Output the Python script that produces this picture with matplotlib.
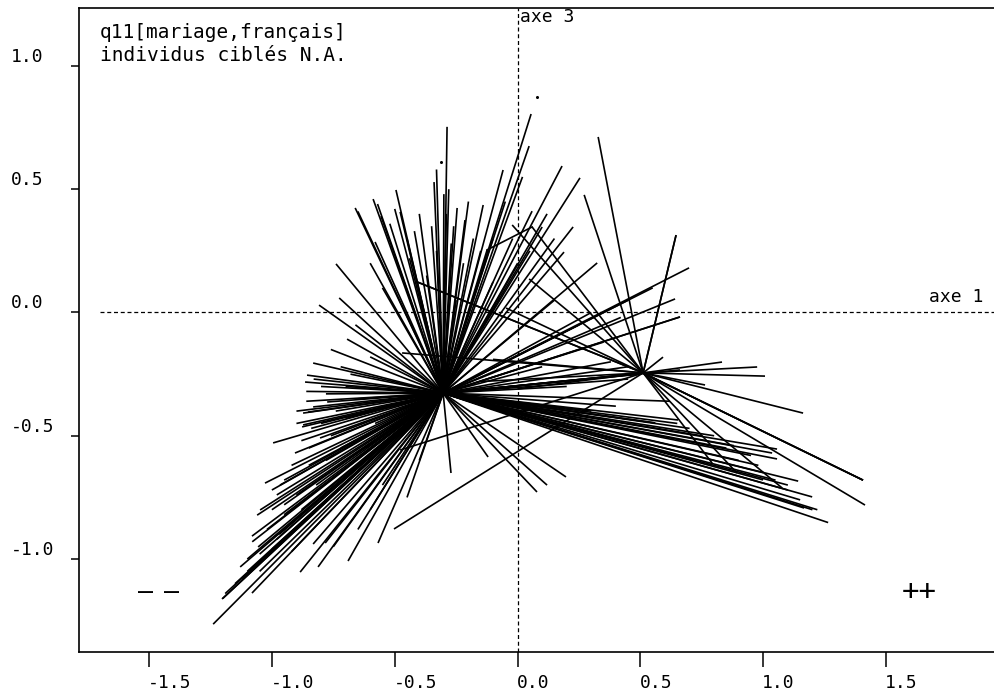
import matplotlib
matplotlib.use("Agg")
import matplotlib.pyplot as plt
from matplotlib.transforms import ScaledTranslation

# ---------------- data ----------------
c1_center = (-0.303, -0.327)
c2_center = (0.511, -0.245)

c1_x = [
    -0.287, -0.340, -0.495, -0.478, -0.588, -0.661, -0.556, -0.580, -0.739, -0.726,
    -0.808, -0.694, -0.246, -0.214, -0.140, -0.059, 0.047, 0.055, 0.181, 0.254,
    0.059, 0.100, 0.226, 0.189, 0.324, 0.698, 0.641, 0.661, 0.661, -0.124,
    -0.100, -0.30, -0.27, -0.33, -0.37, -0.22, -0.25, -0.42, -0.44, -0.18,
    -0.29, -0.52, -0.50, -0.10, 0.00, -0.65, -0.57,
    -0.33, -0.28, -0.26, -0.20, -0.15, -0.05, 0.02, -0.02, 0.05, 0.12,
    0.15, -0.40, -0.45, -0.35, -0.60, -0.55, 0.30, 0.45, 0.55,
    -0.832, -0.857, -0.865, -0.873, -0.832, -0.775, -0.873, -0.853, -0.877, -0.804,
    -0.995, -0.906, -1.028, -0.967, -1.060, -1.048, -1.081, -1.056, -1.129, -1.203,
    -1.239, -1.081, -0.885, -0.812, -0.690, -0.568, -0.832, -0.783, -0.271, -0.120,
    0.079, 0.120, 0.197,
    -0.80, -0.78, -0.74, -0.70, -0.84, -0.76, -0.88, -0.92, -0.85, -0.98,
    -0.90, -1.00, -0.95, -1.02, -0.97, -1.10, -1.05, -1.15, -0.92, -0.75,
    -0.65, -0.60, -0.55, -0.45, -0.40, -0.68, -0.72, -0.60, -0.65, -0.58,
    -0.62, -0.50, -0.76, -0.66, -1.19, -1.12, -1.00, -0.95, -0.90, -0.86,
    -1.20, -1.10, -1.05, -0.98, -1.08, -0.88, -0.82, -0.95, -1.00, -0.78,
    -0.72, -0.85, -0.80, -0.90, -0.86, -0.83, -0.70, -0.62,
    1.264, 1.166, 1.199, 1.142, 1.056, 1.036, 1.056, 0.999, 0.560, 0.560,
    0.653, 0.661, 0.52, 0.50, 0.45, 0.62, 0.88, 0.98, 0.70, 0.80,
    0.40, 0.30, 0.20, 0.10, 0.35, 0.25, 0.42, 0.15, 0.90, 1.10, 1.20,
    0.52, 0.52, 0.45, 0.38, 1.00, 1.10, 1.15, 0.95, 0.75, 0.65,
    0.85, 1.05, 1.22,
]
c1_y = [
    0.753, 0.529, 0.497, 0.408, 0.460, 0.424, 0.391, 0.286, 0.197, 0.059,
    0.030, -0.108, 0.424, 0.375, 0.436, 0.578, 0.675, 0.805, 0.594, 0.546,
    0.411, 0.347, 0.347, 0.245, 0.201, 0.181, 0.055, -0.018, -0.018, 0.254,
    0.124, 0.48, 0.28, 0.25, 0.15, 0.20, 0.05, 0.33, 0.22, 0.30,
    0.40, 0.36, 0.42, 0.30, 0.20, 0.41, 0.44,
    0.58, 0.50, 0.35, 0.45, 0.25, 0.45, 0.55, 0.30, 0.25, 0.40,
    0.30, 0.40, 0.30, 0.35, 0.20, 0.10, 0.00, 0.05, 0.10,
    -0.205, -0.254, -0.282, -0.408, -0.383, -0.363, -0.456, -0.404, -0.464, -0.509,
    -0.529, -0.570, -0.692, -0.700, -0.822, -0.801, -0.907, -0.951, -1.032, -1.162,
    -1.264, -1.138, -1.053, -1.032, -1.008, -0.935, -0.939, -0.935, -0.651, -0.586,
    -0.728, -0.700, -0.667,
    -0.30, -0.33, -0.40, -0.43, -0.47, -0.50, -0.52, -0.62, -0.62, -0.74,
    -0.74, -0.80, -0.82, -0.88, -0.90, -1.00, -1.05, -1.10, -0.97, -0.95,
    -0.88, -0.80, -0.70, -0.75, -0.60, -0.25, -0.22, -0.18, -0.35, -0.45,
    -0.55, -0.50, -0.15, -0.05, -1.14, -1.08, -0.96, -0.68, -0.45, -0.36,
    -1.16, -1.05, -0.98, -0.92, -0.93, -0.80, -0.70, -0.78, -0.72, -0.60,
    -0.55, -0.55, -0.45, -0.40, -0.32, -0.27, -0.30, -0.40,
    -0.852, -0.793, -0.748, -0.684, -0.594, -0.570, -0.554, -0.679, -0.448, -0.448,
    -0.436, -0.233, -0.245, -0.25, -0.27, -0.36, -0.54, -0.62, -0.47, -0.50,
    -0.38, -0.40, -0.30, -0.22, -0.12, -0.05, -0.02, 0.05, -0.60, -0.70, -0.80,
    -0.245, -0.245, -0.22, -0.20, -0.65, -0.72, -0.76, -0.58, -0.50, -0.45,
    -0.55, -0.68, -0.80,
]

c2_x = [
    1.406, 1.406, 1.406, 1.414, 1.077, 0.893, 0.792, 1.162, 0.763, 1.007,
    0.975, 0.832, 0.592, 0.645, 0.645, 0.328, 0.271, -0.409, -0.409, -0.022,
    0.059, 0.047, -0.047, -0.470, -0.478, -0.503, -0.15, 0.00, -0.10,
]
c2_y = [
    -0.680, -0.680, -0.680, -0.781, -0.712, -0.651, -0.611, -0.408, -0.294, -0.258,
    -0.221, -0.201, -0.181, 0.314, 0.314, 0.712, 0.477, 0.124, 0.124, 0.355,
    0.347, 0.136, 0.018, -0.164, -0.558, -0.878, -0.28, -0.31, -0.19,
]

extra_x = [-0.124, 0.059]
extra_y = [0.254, 0.347]

dots_x = [0.08, -0.311]
dots_y = [0.874, 0.61]

xticks = [-1.5, -1.0, -0.5, 0.0, 0.5, 1.0, 1.5]
yticks = [-1.0, -0.5, 0.0, 0.5, 1.0]
xticklabels = ["-1.5", "-1.0", "-0.5", "0.0", "0.5", "1.0", "1.5"]
yticklabels = ["-1.0", "-0.5", "0.0", "0.5", "1.0"]

title_lines = ["q11[mariage,français]", "individus ciblés N.A."]

# ---------------- figure ----------------
W, H = 994, 695
fig = plt.figure(figsize=(W / 100, H / 100), dpi=100)
ax = fig.add_axes([79 / W, (H - 652) / H, 1 - 79 / W, (652 - 8) / H])
ax.set_xlim(-1.785, 1.939)
ax.set_ylim(-1.377, 1.235)

mono = "DejaVu Sans Mono"
lw = 1.2

for x, y in zip(c1_x, c1_y):
    ax.plot([c1_center[0], x], [c1_center[1], y], color="black", lw=lw, solid_capstyle="butt")
for x, y in zip(c2_x, c2_y):
    ax.plot([c2_center[0], x], [c2_center[1], y], color="black", lw=lw, solid_capstyle="butt")
ax.plot(extra_x, extra_y, color="black", lw=lw)
ax.plot(dots_x, dots_y, "o", color="black", ms=1.2, lw=0)

# dashed axes
ax.plot([-1.70, 1.939], [0, 0], color="black", lw=0.9, ls=(0, (3.2, 2.2)))
ax.plot([0, 0], [-1.377, 1.235], color="black", lw=0.9, ls=(0, (3.2, 2.2)))

# texts
ax.text(-1.70, 1.134, title_lines[0], family=mono, fontsize=14, va="center", ha="left")
ax.text(-1.70, 1.041, title_lines[1], family=mono, fontsize=14, va="center", ha="left")
ax.text(0.01, 1.199, "axe 3", family=mono, fontsize=13, va="center", ha="left")
ax.text(1.675, 0.063, "axe 1", family=mono, fontsize=13, va="center", ha="left")
ax.text(-1.515, -1.134, "—", family=mono, fontsize=18, va="center", ha="center")
ax.text(-1.410, -1.134, "—", family=mono, fontsize=18, va="center", ha="center")
ax.text(1.634, -1.134, "++", family=mono, fontsize=21, va="center", ha="center")

# spines
for s in ["left", "bottom", "top"]:
    ax.spines[s].set_linewidth(1.2)
ax.spines["right"].set_visible(False)

# ticks
ax.set_xticks(xticks)
ax.set_xticklabels(xticklabels, family=mono, fontsize=13, ha="left")
ax.set_yticks(yticks)
ax.set_yticklabels(yticklabels, family=mono, fontsize=13, ha="left")
ax.tick_params(axis="x", direction="out", length=10.8, width=1.1, pad=5)
ax.tick_params(axis="y", direction="out", length=5.8, width=1.1, pad=43)
for lab in ax.get_yticklabels():
    lab.set_transform(lab.get_transform() + ScaledTranslation(0, 0.11, fig.dpi_scale_trans))
for lab in ax.get_xticklabels():
    lab.set_transform(lab.get_transform() + ScaledTranslation(-0.01, 0, fig.dpi_scale_trans))

fig.savefig("out.png", dpi=100)
